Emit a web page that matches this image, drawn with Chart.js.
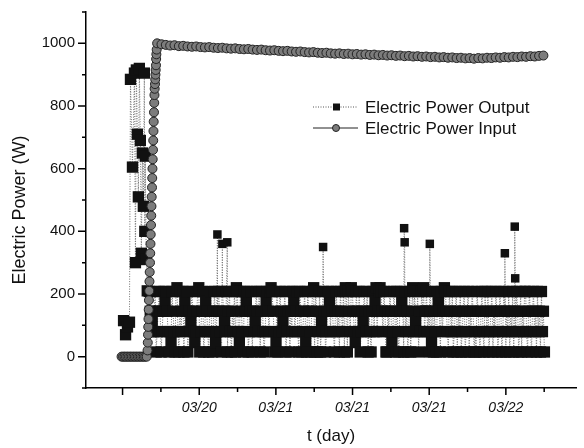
<!DOCTYPE html>
<html>
<head>
<meta charset="utf-8">
<script src="https://cdn.jsdelivr.net/npm/chart.js@4.4.1/dist/chart.umd.min.js"></script>
<style>
  html, body { margin: 0; padding: 0; background: #fff; }
  #wrap { width: 584px; height: 448px; }
</style>
</head>
<body>
<div id="wrap"><canvas id="power" width="584" height="448"></canvas></div>
<script>
// axis ticks (t in tick units, one unit per labelled tick)
var xTickValues = [1, 1.5, 2, 2.5, 3, 3.5, 4, 4.5, 5, 5.5, 6, 6.5];
var xTickLabels = { 1: '', 2: '03/20', 3: '03/21', 4: '03/21', 5: '03/21', 6: '03/22' };
var yTickValues = [-100, 0, 100, 200, 300, 400, 500, 600, 700, 800, 900, 1000, 1100];
var yLabelled = [0, 200, 400, 600, 800, 1000];

// output power - start-up phase
var outStartT = [1.013, 1.039, 1.064, 1.090, 1.103, 1.129, 1.155, 1.168, 1.180, 1.193, 1.206,
                 1.219, 1.232, 1.245, 1.258, 1.271, 1.284, 1.290, 1.296, 1.309, 1.322];
var outStartW = [115, 70, 95, 110, 885, 605, 905, 300, 915, 710, 510,
                 920, 690, 330, 650, 480, 905, 400, 640, 310, 210];

// output power - on/off cycling, one level code per sample
var outCycleFrom = 1.348, outCycleTo = 6.503;
var outLevels = [15, 80, 145, 208, 220, 45, 112, 178];
var outCycleCodes =
  "3216123012" + "3201237321" + "0153210341" + "0312307230" + "2163215123" +
  "4012301721" + "0231023512" + "3210326130" + "2310213043" + "1532103273" +
  "0123021632" + "1302310173" + "2134321053" + "0132162301" + "2302137123" +
  "1032012350" + "3210234032" + "0130613201" + "2371321023" + "1203213043" +
  "0321432153" + "2130126321" + "3021023174" + "1234321320" + "0213251320" +
  "3102372031" + "2013024136" + "1302132412" + "3120253021" + "0372031243" +
  "2103213012" + "3021301230" + "1230213201" + "0321023103" + "2130123021" +
  "3201320132" + "0213021302" + "1320130213" + "3102310231" + "2031203120";

// output power - isolated peaks
var outSpikeT = [2.237, 2.302, 2.366, 3.616, 4.673, 4.680, 5.008, 5.987, 6.116, 6.122];
var outSpikeW = [390, 360, 365, 350, 410, 365, 360, 330, 415, 250];

// input power - off
var inOffT = [0.987, 1.007, 1.026, 1.045, 1.064, 1.084, 1.103, 1.122, 1.142,
              1.161, 1.180, 1.200, 1.219, 1.238, 1.258, 1.277, 1.296, 1.315];
var inOffW = [0, 0, 0, 0, 0, 0, 0, 0, 0, 0, 0, 0, 0, 0, 0, 0, 0, 0];

// input power - switch-on ramp
var inRampT = [1.326, 1.329, 1.332, 1.335, 1.338, 1.341, 1.344, 1.348, 1.351, 1.354,
               1.358, 1.361, 1.364, 1.367, 1.371, 1.374, 1.377, 1.380, 1.384, 1.387,
               1.390, 1.393, 1.397, 1.400, 1.403, 1.406, 1.410, 1.413, 1.416, 1.419,
               1.423, 1.426, 1.429, 1.432, 1.436, 1.438, 1.441, 1.445];
var inRampW = [20, 45, 70, 95, 120, 150, 180, 210, 240, 270,
               300, 330, 360, 390, 420, 450, 480, 510, 540, 570,
               600, 630, 660, 690, 720, 750, 780, 810, 835, 855,
               870, 885, 900, 915, 930, 950, 965, 980];

// input power - running, regular samples
var inRunFrom = 1.451, inRunTo = 6.49;
var inRunW = [1000, 997, 995, 993, 994, 991, 992, 990, 989, 990,
              988, 987, 988, 986, 985, 986, 984, 983, 984, 982,
              981, 982, 980, 979, 980, 978, 977, 978, 976, 975,
              976, 974, 973, 974, 972, 971, 972, 970, 969, 970,
              968, 967, 968, 966, 967, 965, 966, 964, 965, 963,
              964, 962, 963, 961, 962, 960, 961, 959, 960, 958,
              959, 957, 958, 956, 957, 955, 956, 954, 955, 953,
              954, 952, 953, 951, 953, 952, 954, 953, 955, 954,
              956, 955, 957, 956, 958, 957, 959, 958, 960, 961];

function pairs(ts, ws) {
  return ts.map(function (t, i) { return { x: t, y: ws[i] }; });
}
function sampled(from, to, ws) {
  var step = (to - from) / (ws.length - 1);
  return ws.map(function (w, i) { return { x: from + i * step, y: w }; });
}

var outCycleW = outCycleCodes.split('').map(function (c) { return outLevels[+c]; });
var outData = pairs(outStartT, outStartW)
  .concat(sampled(outCycleFrom, outCycleTo, outCycleW))
  .concat(pairs(outSpikeT, outSpikeW))
  .sort(function (a, b) { return a.x - b.x; });
var inData = pairs(inOffT, inOffW)
  .concat(pairs(inRampT, inRampW))
  .concat(sampled(inRunFrom, inRunTo, inRunW));

var FONT = '"Liberation Sans", Arial, sans-serif';

// short/long tick marks on the outside of both axes
var axisTicks = {
  id: 'axisTicks',
  afterDraw: function (chart) {
    var ctx = chart.ctx, xs = chart.scales.x, ys = chart.scales.y;
    ctx.save();
    ctx.strokeStyle = '#000';
    ctx.lineWidth = 1.5;
    ctx.beginPath();
    xTickValues.forEach(function (v) {
      var px = xs.getPixelForValue(v);
      var len = (v % 1 === 0) ? 7 : 4;
      ctx.moveTo(px, xs.top);
      ctx.lineTo(px, xs.top + len);
    });
    yTickValues.forEach(function (v) {
      var py = ys.getPixelForValue(v);
      var len = (v % 200 === 0) ? 8 : 4;
      ctx.moveTo(ys.right, py);
      ctx.lineTo(ys.right - len, py);
    });
    ctx.stroke();
    ctx.restore();
  }
};

// legend inside the plot, line + marker + label
var sideLegend = {
  id: 'sideLegend',
  afterDraw: function (chart) {
    var ctx = chart.ctx;
    chart.data.datasets.forEach(function (ds, i) {
      var y = 107 + i * 21;
      ctx.save();
      ctx.strokeStyle = ds.legendLine;
      ctx.lineWidth = 1;
      ctx.setLineDash(ds.borderDash || []);
      ctx.beginPath();
      ctx.moveTo(313, y);
      ctx.lineTo(358, y);
      ctx.stroke();
      ctx.setLineDash([]);
      ctx.fillStyle = ds.pointBackgroundColor;
      ctx.strokeStyle = ds.pointBorderColor;
      if (ds.pointStyle === 'rect') {
        ctx.fillRect(333, y - 3.5, 7, 7);
      } else {
        ctx.beginPath();
        ctx.arc(336, y, 3.5, 0, Math.PI * 2);
        ctx.fill();
        ctx.stroke();
      }
      ctx.fillStyle = '#111';
      ctx.font = '17px ' + FONT;
      ctx.textBaseline = 'middle';
      ctx.fillText(ds.label, 365, y + 1);
      ctx.restore();
    });
  }
};

var chart = new Chart(document.getElementById('power'), {
  type: 'line',
  data: {
    datasets: [
      {
        label: 'Electric Power Output',
        data: outData,
        borderColor: '#707070',
        legendLine: '#555',
        borderWidth: 1,
        borderDash: [1, 1.5],
        pointStyle: 'rect',
        // peaks after start-up are drawn a bit smaller, as in the original
        pointRadius: function (c) {
          return (c.raw && c.raw.x > 2 && c.raw.y > 240) ? 6 : 8;
        },
        pointBackgroundColor: '#111',
        pointBorderColor: '#111',
        pointBorderWidth: 0,
        tension: 0,
        order: 2
      },
      {
        label: 'Electric Power Input',
        data: inData,
        borderColor: '#333',
        legendLine: '#222',
        borderWidth: 1,
        pointStyle: 'circle',
        pointRadius: 4.5,
        pointBackgroundColor: '#7c7c7c',
        pointBorderColor: '#222',
        pointBorderWidth: 1,
        tension: 0,
        order: 1
      }
    ]
  },
  options: {
    responsive: false,
    devicePixelRatio: 1,
    animation: false,
    events: [],
    layout: { padding: { top: 12, right: 2, left: 0, bottom: 0 } },
    plugins: { legend: { display: false }, tooltip: { enabled: false } },
    scales: {
      x: {
        type: 'linear',
        min: 0.523,
        max: 6.915,
        afterBuildTicks: function (s) { s.ticks = xTickValues.map(function (v) { return { value: v }; }); },
        afterFit: function (s) { s.height = 60; s.paddingLeft = 0; s.paddingRight = 0; },
        grid: { display: true, drawTicks: false, color: 'rgba(0,0,0,0)' },
        border: { display: true, color: '#000', width: 1.5 },
        ticks: {
          autoSkip: false,
          maxRotation: 0,
          padding: 12,
          color: '#111',
          font: { family: FONT, size: 14, style: 'italic' },
          callback: function (v) { return xTickLabels[v] || ''; }
        },
        title: {
          display: true,
          text: 't (day)',
          color: '#111',
          font: { family: FONT, size: 17 },
          padding: { top: 0, bottom: 1 }
        }
      },
      y: {
        min: -100,
        max: 1100,
        // only the labelled values go to the scale; minor marks come from axisTicks
        afterBuildTicks: function (s) { s.ticks = yLabelled.map(function (v) { return { value: v }; }); },
        afterFit: function (s) { s.width = 86; s.paddingTop = 0; s.paddingBottom = 0; },
        grid: { display: true, drawTicks: false, color: 'rgba(0,0,0,0)' },
        border: { display: true, color: '#000', width: 1.5 },
        ticks: {
          autoSkip: false,
          padding: 11,
          color: '#111',
          font: { family: FONT, size: 15 },
          callback: function (v) { return String(v); }
        },
        title: {
          display: true,
          text: 'Electric Power (W)    ',
          color: '#111',
          font: { family: FONT, size: 18 },
          padding: { top: 9, bottom: 0 }
        }
      }
    }
  },
  plugins: [axisTicks, sideLegend]
});
</script>
</body>
</html>
